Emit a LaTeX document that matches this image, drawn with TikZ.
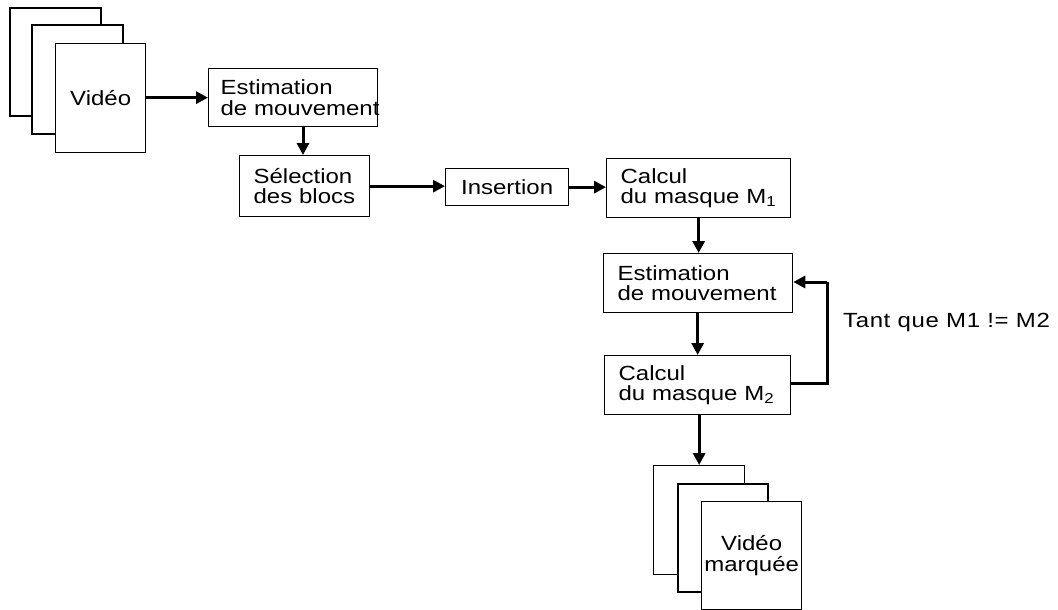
\documentclass[tikz,border=0pt]{standalone}
\usepackage{fontspec}
\setmainfont{Liberation Sans}[FakeStretch=1.17]
\usetikzlibrary{arrows.meta}
\begin{document}
\begin{tikzpicture}[x=1pt,y=-1pt,
  every node/.style={font=\fontsize{20.5}{20.5}\selectfont},
  procbox/.style={draw, line width=1.3pt, align=left, inner xsep=14pt, inner ysep=0pt,
    text width=#1, minimum height=58pt, anchor=north west},
  sheet/.style={draw, line width=1.3pt, fill=white},
  flow/.style={line width=3pt, -{Triangle[length=12pt,width=12pt]}},
  loopline/.style={line width=3pt}]
\useasboundingbox (0,0) rectangle (1058,610);

% input video stack
\draw[sheet] (10,8) rectangle (101,116);
\draw[sheet] (32,25) rectangle (123,134);
\node[sheet, minimum width=90pt, minimum height=109pt, inner sep=0pt, anchor=north west] (vin) at (55,43) {Vidéo};

\node[procbox=145pt, inner xsep=12pt] (est1) at (208,68) {Estimation\\\mbox{de mouvement}};
\node[procbox=102pt, minimum height=61pt] (sel) at (239,155) {Sélection\\\mbox{des blocs}};
\node[draw, line width=1.3pt, minimum width=123pt, minimum height=37pt, inner sep=0pt, anchor=north west] (ins) at (445,168) {Insertion};
\node[procbox=156pt, minimum height=59pt] (calc1) at (606,158) {Calcul\\\mbox{du masque M\textsubscript{1}}};
\node[procbox=161pt, minimum height=59pt] (est2) at (603,253) {Estimation\\\mbox{de mouvement}};
\node[procbox=158pt, minimum height=59pt] (calc2) at (604,355) {Calcul\\\mbox{du masque M\textsubscript{2}}};

\node[anchor=west, inner sep=0pt, font=\fontsize{20.5}{20.5}\selectfont\addfontfeatures{LetterSpace=3}] (cond) at (843,322) {Tant que M1 != M2};

% output video stack
\node[sheet, minimum width=91pt, minimum height=109pt, inner sep=0pt, anchor=north west] (vo1) at (653,465) {};
\draw[sheet] (678,484) rectangle (768,592);
\node[sheet, minimum width=100pt, minimum height=108pt, inner sep=0pt, anchor=north west, align=center] (vout) at (701,501) {Vidéo\\marquée};

% connectors
\draw[flow] (vin.east |- est1.west) -- (est1.west);
\draw[flow] (est1.south -| 303,0) -- (sel.north -| 303,0);
\draw[flow] (sel.east) -- (ins.west |- sel.east);
\draw[flow] (ins.east) -- (calc1.west |- ins.east);
\draw[flow] (calc1.south) -- (est2.north -| calc1.south);
\draw[flow] (est2.south -| calc2.north) -- (calc2.north);
\draw[flow] (calc2.south -| vo1.north) -- (vo1.north);
\coordinate (lb) at (827,383);
\coordinate (lt) at (827,282);
\draw[loopline] (calc2.east |- lb) -- (lb) -- (lt);
\draw[flow] (lt) -- (est2.east |- lt);
\end{tikzpicture}
\end{document}
